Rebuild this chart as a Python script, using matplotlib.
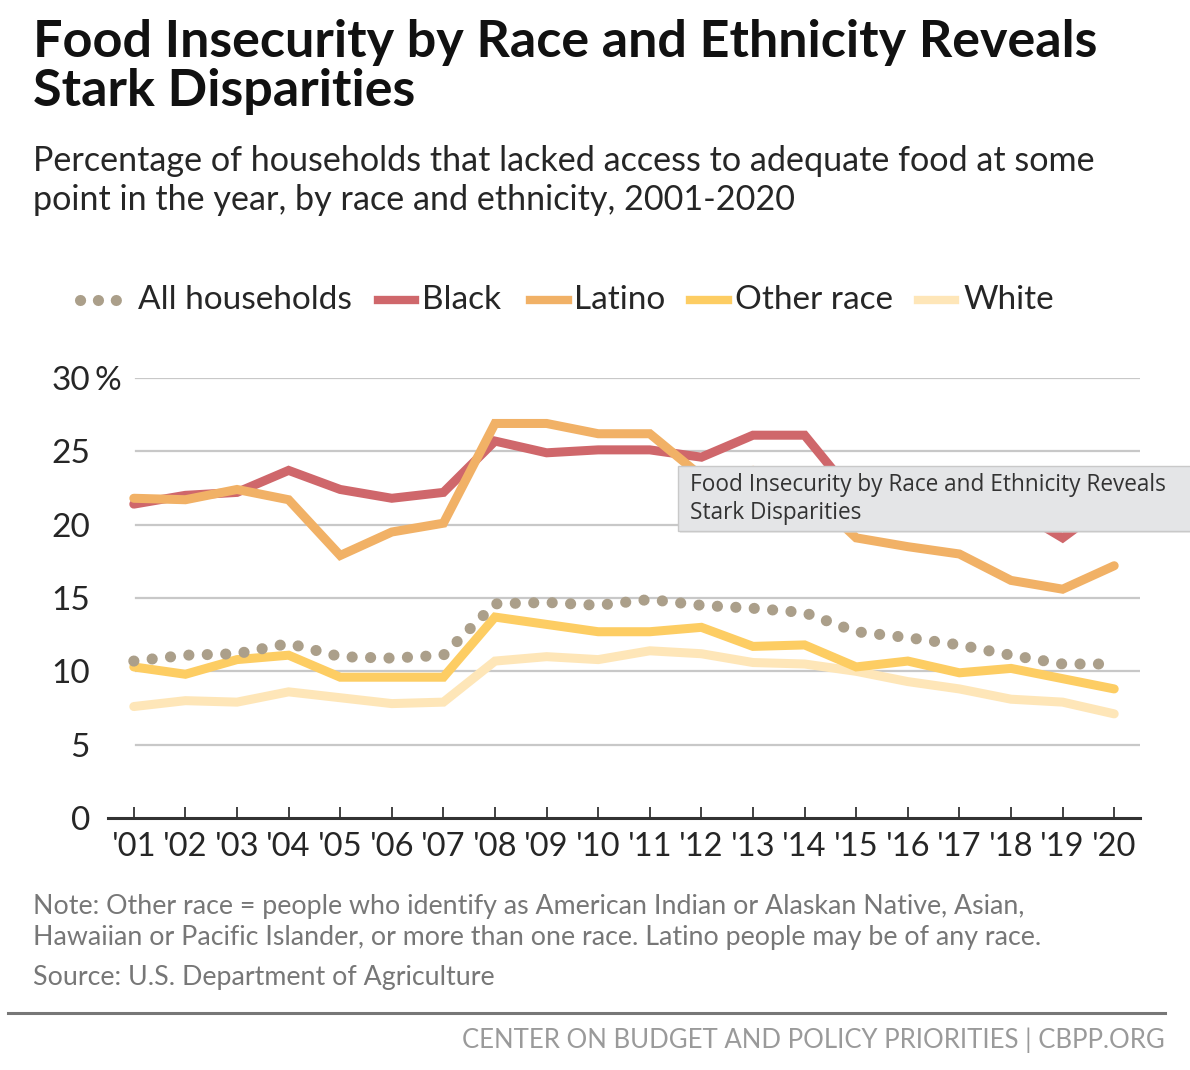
import matplotlib.pyplot as plt
from matplotlib.patches import Rectangle
from matplotlib.lines import Line2D
from matplotlib.font_manager import FontProperties

years = list(range(2001, 2021))
tick_labels = ["'" + str(y)[2:] for y in years]

all_households = [10.7, 11.1, 11.2, 11.9, 11.0, 10.9, 11.1, 14.6, 14.7, 14.5,
                  14.9, 14.5, 14.3, 14.0, 12.7, 12.3, 11.8, 11.1, 10.5, 10.5]
black = [21.4, 22.0, 22.2, 23.7, 22.4, 21.8, 22.2, 25.7, 24.9, 25.1,
         25.1, 24.6, 26.1, 26.1, 21.8, 22.5, 21.8, 21.2, 19.1, 21.7]
latino = [21.8, 21.7, 22.4, 21.7, 17.9, 19.5, 20.1, 26.9, 26.9, 26.2,
          26.2, 23.3, 23.7, 22.4, 19.1, 18.5, 18.0, 16.2, 15.6, 17.2]
other_race = [10.3, 9.8, 10.8, 11.1, 9.6, 9.6, 9.6, 13.7, 13.2, 12.7,
              12.7, 13.0, 11.7, 11.8, 10.3, 10.7, 9.9, 10.2, 9.5, 8.8]
white = [7.6, 8.0, 7.9, 8.6, 8.2, 7.8, 7.9, 10.7, 11.0, 10.8,
         11.4, 11.2, 10.6, 10.5, 10.0, 9.3, 8.8, 8.1, 7.9, 7.1]

yticks = [0, 5, 10, 15, 20, 25, 30]
names = ["All households", "Black", "Latino", "Other race", "White"]

C_ALL = "#ab9f8a"
C_BLACK = "#cf676b"
C_LATINO = "#f1b166"
C_OTHER = "#fdcd63"
C_WHITE = "#fee6b8"
C_TEXT = "#262626"

W, H = 1190, 1070


def body(size):
    return FontProperties(family="Lato", weight="normal", size=size)


fig = plt.figure(figsize=(W / 100, H / 100), dpi=100)

# title / subtitle
fig.text(33 / W, 1 - 19 / H, "Food Insecurity by Race and Ethnicity Reveals\nStark Disparities",
         fontsize=37.5, fontweight="bold", family="Lato", va="top", ha="left",
         linespacing=1.05, color="#111111")
fig.text(33 / W, 1 - 145 / H,
         "Percentage of households that lacked access to adequate food at some\n"
         "point in the year, by race and ethnicity, 2001-2020",
         fontproperties=body(24.6), va="top", ha="left", linespacing=1.28,
         color=C_TEXT)

ax = fig.add_axes([108 / W, 1 - 818 / H, (1140 - 108) / W, (818 - 378) / H])
ax.set_xlim(2000.5, 2020.5)
ax.set_ylim(0, 30)
for y in yticks[1:]:
    ax.axhline(y, xmin=(136 - 108) / (1140 - 108), xmax=1, color="#c8c8c8",
               lw=1.6, zorder=0)

line_kw = dict(lw=6.5, solid_capstyle="round", solid_joinstyle="miter")
dot_style = (0, (0.01, 1.65))
ax.plot(years, white, color=C_WHITE, zorder=2, **line_kw)
ax.plot(years, other_race, color=C_OTHER, zorder=3, **line_kw)
ax.plot(years, all_households, color=C_ALL, lw=8, linestyle=dot_style,
        dash_capstyle="round", zorder=4)
ax.plot(years, black, color=C_BLACK, zorder=3, **line_kw)
ax.plot(years, latino, color=C_LATINO, zorder=4, **line_kw)

for s in ["top", "right", "left"]:
    ax.spines[s].set_visible(False)
ax.spines["bottom"].set_linewidth(2.2)
ax.spines["bottom"].set_color("#333333")
ax.set_xticks(years)
ax.set_xticklabels(tick_labels, fontproperties=body(23.5), color=C_TEXT)
ax.tick_params(axis="x", direction="in", length=8, width=1.3, color="#333333", pad=10)
ax.set_yticks(yticks)
ax.set_yticklabels([str(v) for v in yticks], fontproperties=body(24), color=C_TEXT)
ax.tick_params(axis="y", length=0, pad=13)
fig.text(95 / W, 1 - 381 / H, "%", fontproperties=body(24), color=C_TEXT,
         va="center", ha="left")

# legend, placed by hand
leg_y = 1 - 300 / H
fig.add_artist(Line2D([80 / W, 117 / W], [leg_y, leg_y], color=C_ALL, lw=8,
                      linestyle=(0, (0.01, 1.6)), dash_capstyle="round"))
bars = [(378, 415, C_BLACK), (530, 568, C_LATINO), (690, 728, C_OTHER), (918, 955, C_WHITE)]
for x0, x1, c in bars:
    fig.add_artist(Line2D([x0 / W, x1 / W], [leg_y, leg_y], color=c, lw=6))
text_x = [138, 422, 574, 735, 963]
for x, name in zip(text_x, names):
    fig.text(x / W, leg_y, name, fontproperties=body(24), color=C_TEXT,
             va="center", ha="left")

# notes
fig.text(33 / W, 1 - 922 / H,
         "Note: Other race = people who identify as American Indian or Alaskan Native, Asian,\n"
         "Hawaiian or Pacific Islander, or more than one race. Latino people may be of any race.",
         family="Lato", fontsize=19.3, color="#777777", va="center", ha="left", linespacing=1.33)
fig.text(33 / W, 1 - 977 / H, "Source: U.S. Department of Agriculture",
         family="Lato", fontsize=19.3, color="#777777", va="center", ha="left")
fig.add_artist(Line2D([8 / W, 1165 / W], [1 - 1013 / H, 1 - 1013 / H],
                      color="#777777", lw=2.2))
fig.text(1165 / W, 1 - 1040 / H, "CENTER ON BUDGET AND POLICY PRIORITIES | CBPP.ORG",
         family="Lato", fontsize=18.5, color="#9a9a9a", va="center", ha="right")

# tooltip overlay
fig.add_artist(Rectangle((680 / W, 1 - 533 / H), (1200 - 680) / W, (533 - 466) / H,
                         facecolor="#d9d9d9", edgecolor="none", alpha=0.5, zorder=9))
fig.add_artist(Rectangle((678 / W, 1 - 531 / H), (1200 - 678) / W, (531 - 466) / H,
                         facecolor="#e4e5e7", edgecolor="#c9c9c9", lw=1, zorder=10))
fig.text(690 / W, 1 - 499 / H, "Food Insecurity by Race and Ethnicity Reveals\nStark Disparities",
         family="Open Sans", fontsize=16.3, color="#333333", va="center", ha="left",
         linespacing=1.2, zorder=11)

fig.savefig("out.png", dpi=100)
